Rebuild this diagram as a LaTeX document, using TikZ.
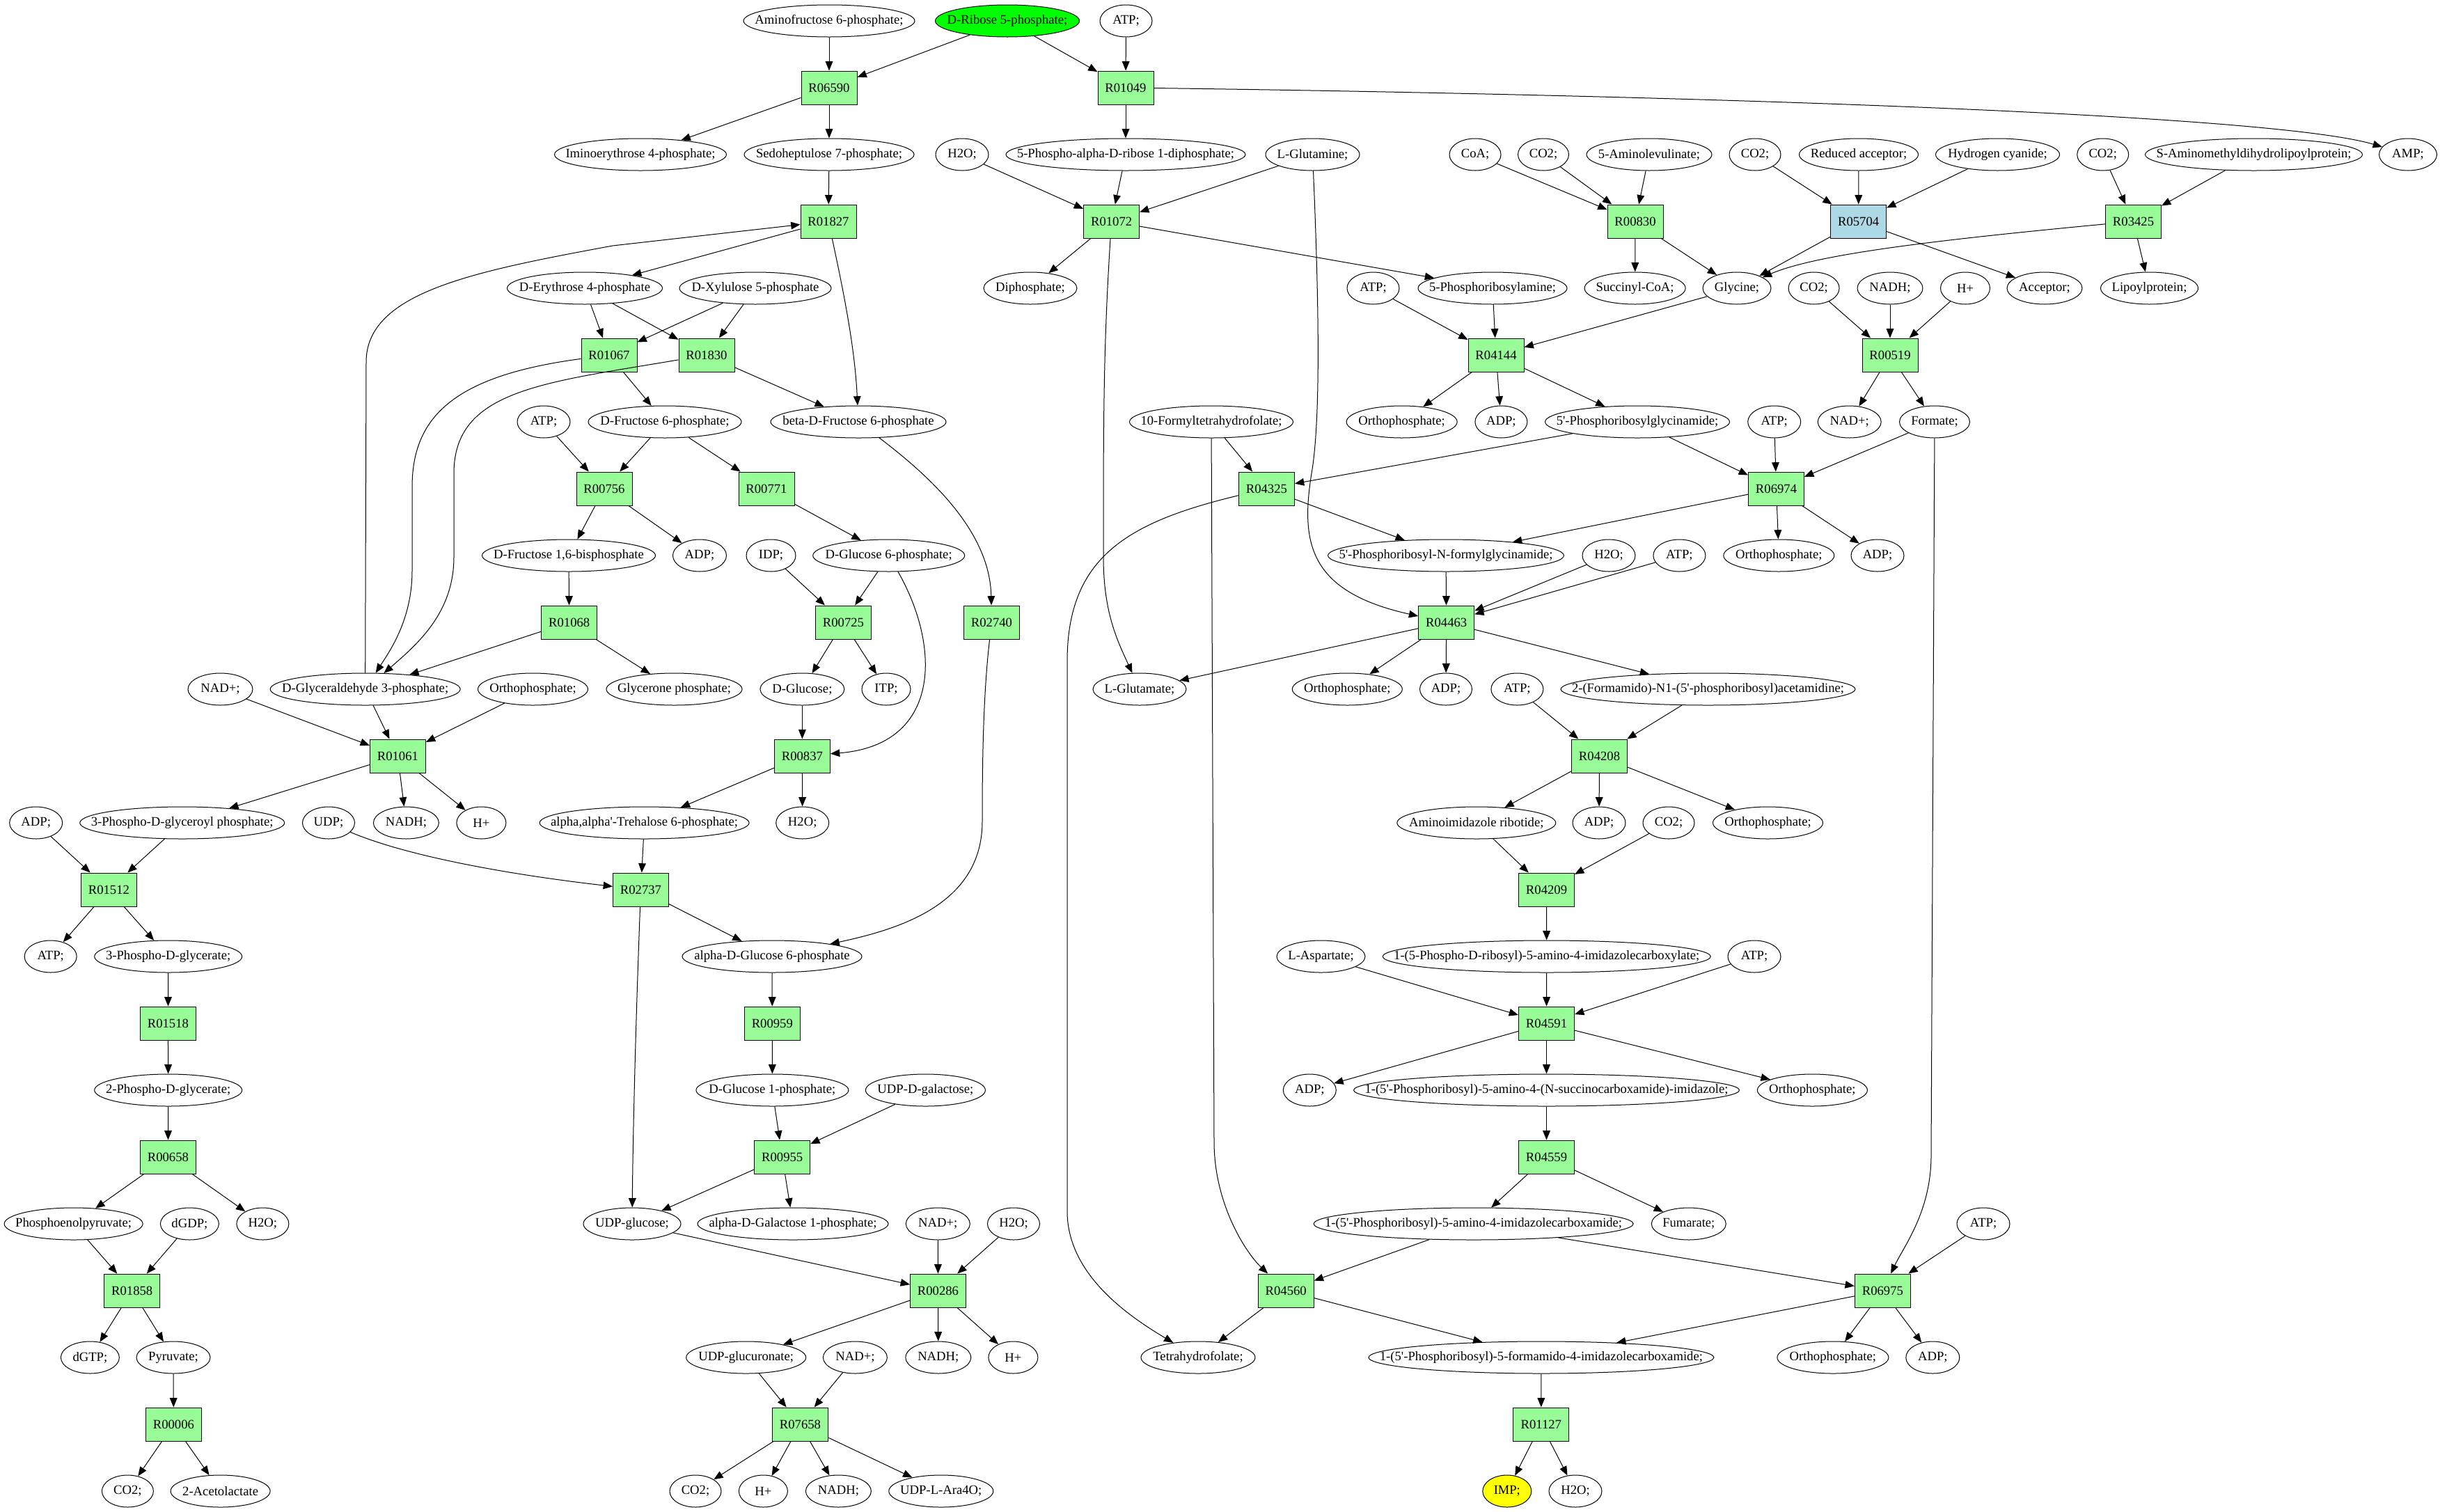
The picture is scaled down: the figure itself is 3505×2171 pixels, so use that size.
\documentclass[tikz,border=0pt]{standalone}
\usepackage{fontspec}
\setmainfont{Liberation Serif}
\usetikzlibrary{arrows.meta,shapes.geometric}
\definecolor{palegreen}{RGB}{152,251,152}
\definecolor{lblue}{RGB}{173,216,230}
\definecolor{pgreen}{RGB}{0,255,0}
\definecolor{pyellow}{RGB}{255,255,0}
\newsavebox\lblbox
\newcommand\fitlabel[2]{\sbox\lblbox{#2}\pgfmathsetmacro\lblratio{min(1,((#1-32)*0.75)/\wd\lblbox)}\makebox[0pt]{\scalebox{\lblratio}[1]{\usebox\lblbox}}}
\newcommand\Mnode[6][]{\node[mol,minimum width={#5*0.75pt},#1] (#2) at ({#3},{30+96*#4}) {\fitlabel{#5}{#6}};}
\newcommand\Rnode[4][]{\node[rxn,#1] (#2) at ({#3},{30+96*#4}) {#2};}
\newcommand\q{\textquotesingle}
\begin{document}
\begin{tikzpicture}[x=0.75pt,y=-0.75pt,line width=0.75pt,
  >={Triangle[length=10pt,width=8pt]},
  mol/.style={draw,ellipse,inner sep=0pt,minimum height=34.5pt,font=\fontsize{14pt}{16pt}\selectfont},
  rxn/.style={draw,rectangle,fill=palegreen,inner sep=0pt,minimum width=60pt,minimum height=36pt,font=\fontsize{14pt}{16pt}\selectfont}]
\useasboundingbox (0,0) rectangle (3505,2171);
% rank 0
\Mnode{aminofru}{1191}{0}{246}{Aminofructose 6-phosphate;}
\Mnode[fill=pgreen]{rib5p}{1447}{0}{207}{D-Ribose 5-phosphate;}
\Mnode{atpA}{1617.5}{0}{75}{ATP;}
% rank 1
\Rnode{R06590}{1191}{1}
\Rnode{R01049}{1617}{1}
% rank 2
\Mnode{iminoery}{920}{2}{247}{Iminoerythrose 4-phosphate;}
\Mnode{sedo7p}{1191}{2}{244}{Sedoheptulose 7-phosphate;}
\Mnode{h2oA}{1382}{2}{76}{H2O;}
\Mnode{prpp}{1617}{2}{344}{5-Phospho-alpha-D-ribose 1-diphosphate;}
\Mnode{glutamine}{1885.5}{2}{135}{L-Glutamine;}
\Mnode{coa}{2119}{2}{74}{CoA;}
\Mnode{co2A}{2217}{2}{73}{CO2;}
\Mnode{ala}{2369}{2}{180}{5-Aminolevulinate;}
\Mnode{co2B}{2521}{2}{74}{CO2;}
\Mnode{redacc}{2670}{2}{171}{Reduced acceptor;}
\Mnode{hcn}{2869.5}{2}{178}{Hydrogen cyanide;}
\Mnode{co2C}{3020.7}{2}{74}{CO2;}
\Mnode{samdl}{3237.5}{2}{312}{S-Aminomethyldihydrolipoylprotein;}
\Mnode{amp}{3459}{2}{83}{AMP;}
% rank 3
\Rnode{R01827}{1190}{3}
\Rnode{R01072}{1596.6}{3}
\Rnode{R00830}{2349}{3}
\Rnode[fill=lblue]{R05704}{2669.6}{3}
\Rnode{R03425}{3064.5}{3}
% rank 4
\Mnode{ery4p}{840}{4}{223}{D-Erythrose 4-phosphate}
\Mnode{xyl5p}{1085}{4}{218}{D-Xylulose 5-phosphate}
\Mnode{diphos}{1480}{4}{134}{Diphosphate;}
\Mnode{atpB}{1972.5}{4}{75}{ATP;}
\Mnode{pra}{2144}{4}{214}{5-Phosphoribosylamine;}
\Mnode{succoa}{2348.6}{4}{145}{Succinyl-CoA;}
\Mnode{glycine}{2495}{4}{98}{Glycine;}
\Mnode{co2D}{2605.6}{4}{73}{CO2;}
\Mnode{nadhA}{2715}{4}{94}{NADH;}
\Mnode{hA}{2823}{4}{71}{H+}
\Mnode{acceptor}{2937}{4}{108}{Acceptor;}
\Mnode{lipoyl}{3087.5}{4}{140}{Lipoylprotein;}
% rank 5
\Rnode{R01067}{875}{5}
\Rnode{R01830}{1015}{5}
\Rnode{R04144}{2149}{5}
\Rnode{R00519}{2715}{5}
% rank 6
\Mnode{atpC}{781}{6}{76}{ATP;}
\Mnode{fru6p}{955}{6}{220}{D-Fructose 6-phosphate;}
\Mnode{bfru6p}{1233}{6}{252}{beta-D-Fructose 6-phosphate}
\Mnode{fthf}{1740}{6}{235}{10-Formyltetrahydrofolate;}
\Mnode{orthoA}{2013.6}{6}{159}{Orthophosphate;}
\Mnode{adpA}{2156.4}{6}{75}{ADP;}
\Mnode{gar}{2352}{6}{265}{5\q-Phosphoribosylglycinamide;}
\Mnode{atpD}{2548.7}{6}{76}{ATP;}
\Mnode{nadA}{2656.7}{6}{91}{NAD+;}
\Mnode{formate}{2779}{6}{101}{Formate;}
% rank 7
\Rnode{R00756}{868}{7}
\Rnode{R00771}{1101}{7}
\Rnode{R04325}{1819.4}{7}
\Rnode{R06974}{2551.5}{7}
% rank 8
\Mnode{fbp}{817}{8}{249}{D-Fructose 1,6-bisphosphate}
\Mnode{adpB}{1005}{8}{77}{ADP;}
\Mnode{idp}{1107.5}{8}{71}{IDP;}
\Mnode{glc6p}{1276.7}{8}{218}{D-Glucose 6-phosphate;}
\Mnode{fgar}{2077}{8}{339}{5\q-Phosphoribosyl-N-formylglycinamide;}
\Mnode{h2oB}{2311}{8}{76}{H2O;}
\Mnode{atpE}{2412.4}{8}{75}{ATP;}
\Mnode{orthoB}{2555.3}{8}{159}{Orthophosphate;}
\Mnode{adpC}{2697}{8}{76}{ADP;}
% rank 9
\Rnode{R01068}{817.7}{9}
\Rnode{R00725}{1211.5}{9}
\Rnode{R02740}{1424.5}{9}
\Rnode{R04463}{2077.7}{9}
% rank 10
\Mnode{nadB}{316.5}{10}{93}{NAD+;}
\Mnode{gap}{524.7}{10}{273}{D-Glyceraldehyde 3-phosphate;}
\Mnode{orthoC}{765.5}{10}{158}{Orthophosphate;}
\Mnode{dhap}{968.5}{10}{195}{Glycerone phosphate;}
\Mnode{glucose}{1152.4}{10}{121}{D-Glucose;}
\Mnode{itp}{1273}{10}{70}{ITP;}
\Mnode{glutamate}{1637}{10}{134}{L-Glutamate;}
\Mnode{orthoD}{1935.3}{10}{158}{Orthophosphate;}
\Mnode{adpD}{2077}{10}{75}{ADP;}
\Mnode{atpF}{2179.4}{10}{75}{ATP;}
\Mnode{fgam}{2453.5}{10}{423}{2-(Formamido)-N1-(5\q-phosphoribosyl)acetamidine;}
% rank 11
\Rnode{R01061}{571.4}{11}
\Rnode{R00837}{1152.4}{11}
\Rnode{R04208}{2297.5}{11}
% rank 12
\Mnode{adpE}{51.7}{12}{76}{ADP;}
\Mnode{bpg}{261.7}{12}{294}{3-Phospho-D-glyceroyl phosphate;}
\Mnode{udp}{472}{12}{75}{UDP;}
\Mnode{nadhB}{583.4}{12}{94}{NADH;}
\Mnode{hB}{691.4}{12}{71}{H+}
\Mnode{tre6p}{925.6}{12}{301}{alpha,alpha\q-Trehalose 6-phosphate;}
\Mnode{h2oC}{1152.7}{12}{76}{H2O;}
\Mnode{air}{2120.8}{12}{228}{Aminoimidazole ribotide;}
\Mnode{adpF}{2297}{12}{76}{ADP;}
\Mnode{co2E}{2397}{12}{74}{CO2;}
\Mnode{orthoE}{2539.5}{12}{158}{Orthophosphate;}
% rank 13
\Rnode{R01512}{156.4}{13}
\Rnode{R02737}{920.5}{13}
\Rnode{R04209}{2221.5}{13}
% rank 14
\Mnode{atpG}{72.7}{14}{75}{ATP;}
\Mnode{pg3}{241.7}{14}{212}{3-Phospho-D-glycerate;}
\Mnode{aglc6p}{1109}{14}{258}{alpha-D-Glucose 6-phosphate}
\Mnode{asp}{1897.5}{14}{127}{L-Aspartate;}
\Mnode{cair}{2221.7}{14}{471}{1-(5-Phospho-D-ribosyl)-5-amino-4-imidazolecarboxylate;}
\Mnode{atpH}{2520}{14}{76}{ATP;}
% rank 15
\Rnode{R01518}{241.4}{15}
\Rnode{R00959}{1109.3}{15}
\Rnode{R04591}{2221.5}{15}
% rank 16
\Mnode{pg2}{241.7}{16}{212}{2-Phospho-D-glycerate;}
\Mnode{glc1p}{1109.4}{16}{219}{D-Glucose 1-phosphate;}
\Mnode{udpgal}{1329.4}{16}{172}{UDP-D-galactose;}
\Mnode{adpG}{1881.3}{16}{76}{ADP;}
\Mnode{saicar}{2221.5}{16}{554}{1-(5\q-Phosphoribosyl)-5-amino-4-(N-succinocarboxamide)-imidazole;}
\Mnode{orthoF}{2603.4}{16}{158}{Orthophosphate;}
% rank 17
\Rnode{R00658}{241.4}{17}
\Rnode{R00955}{1123.7}{17}
\Rnode{R04559}{2221.5}{17}
% rank 18
\Mnode{pep}{105.6}{18}{199}{Phosphoenolpyruvate;}
\Mnode{dgdp}{272.4}{18}{84}{dGDP;}
\Mnode{h2oD}{377.4}{18}{75}{H2O;}
\Mnode{udpglc}{908}{18}{140}{UDP-glucose;}
\Mnode{gal1p}{1139}{18}{274}{alpha-D-Galactose 1-phosphate;}
\Mnode{nadC}{1347.3}{18}{92}{NAD+;}
\Mnode{h2oE}{1456}{18}{75}{H2O;}
\Mnode{aicar}{2116.6}{18}{459}{1-(5\q-Phosphoribosyl)-5-amino-4-imidazolecarboxamide;}
\Mnode{fumarate}{2425.8}{18}{107}{Fumarate;}
\Mnode{atpI}{2849}{18}{76}{ATP;}
% rank 19
\Rnode{R01858}{189.7}{19}
\Rnode{R00286}{1347.5}{19}
\Rnode{R04560}{1847.2}{19}
\Rnode{R06975}{2704.4}{19}
% rank 20
\Mnode{dgtp}{129.4}{20}{84}{dGTP;}
\Mnode{pyruvate}{249}{20}{106}{Pyruvate;}
\Mnode{udpglcA}{1071.7}{20}{172}{UDP-glucuronate;}
\Mnode{nadD}{1228.4}{20}{92}{NAD+;}
\Mnode{nadhC}{1347.8}{20}{94}{NADH;}
\Mnode{hC}{1455.4}{20}{71}{H+}
\Mnode{thf}{1721}{20}{164}{Tetrahydrofolate;}
\Mnode{faicar}{2213.9}{20}{496}{1-(5\q-Phosphoribosyl)-5-formamido-4-imidazolecarboxamide;}
\Mnode{orthoG}{2632.9}{20}{160}{Orthophosphate;}
\Mnode{adpH}{2776.3}{20}{77}{ADP;}
% rank 21
\Rnode{R00006}{249.4}{21}
\Rnode{R07658}{1149.5}{21}
\Rnode{R01127}{2213.8}{21}
% rank 22
\Mnode{co2F}{183.4}{22}{74}{CO2;}
\Mnode{acetolac}{316.6}{22}{143}{2-Acetolactate}
\Mnode{co2G}{999}{22}{74}{CO2;}
\Mnode{hD}{1096.4}{22}{70}{H+}
\Mnode{nadhD}{1204.4}{22}{94}{NADH;}
\Mnode{ara4o}{1351.8}{22}{150}{UDP-L-Ara4O;}
\Mnode[fill=pyellow]{imp}{2164.8}{22}{70}{IMP;}
\Mnode{h2oF}{2263}{22}{76}{H2O;}
% ---------- edges, left part
\draw[->] (aminofru) -- (R06590);
\draw[->] (rib5p) -- (R06590);
\draw[->] (rib5p) -- (R01049);
\draw[->] (atpA) -- (R01049);
\draw[->] (R06590) -- (iminoery);
\draw[->] (R06590) -- (sedo7p);
\draw[->] (R01049) -- (prpp);
\draw[->] (R01049) .. controls (2300,135) and (3250,160) .. (amp);
\draw[->] (sedo7p) -- (R01827);
\draw[->] (h2oA) -- (R01072);
\draw[->] (prpp) -- (R01072);
\draw[->] (glutamine) -- (R01072);
\draw[->] (R01827) -- (ery4p);
\draw[->] (R01827) .. controls (1212,420) and (1228,500) .. (bfru6p);
\draw[->] (gap.north) -- (526,520) .. controls (526,420) and (680,390) .. (880,353) -- (R01827);
\draw[->] (R01072) -- (diphos);
\draw[->] (R01072) -- (pra);
\draw[->] (R01072) .. controls (1585,500) and (1585,600) .. (1585,800) .. controls (1585,880) and (1605,920) .. (glutamate);
\draw[->] (ery4p) -- (R01067);
\draw[->] (ery4p) -- (R01830);
\draw[->] (xyl5p) -- (R01067);
\draw[->] (xyl5p) -- (R01830);
\draw[->] (R01067) .. controls (650,540) and (592,600) .. (592,700) -- (592,820) .. controls (592,890) and (560,935) .. (gap);
\draw[->] (R01830) .. controls (780,550) and (652,560) .. (652,680) -- (652,800) .. controls (652,880) and (600,925) .. (gap);
\draw[->] (R01067) -- (fru6p);
\draw[->] (R01830) -- (bfru6p);
\draw[->] (atpC) -- (R00756);
\draw[->] (fru6p) -- (R00756);
\draw[->] (fru6p) -- (R00771);
\draw[->] (R00756) -- (fbp);
\draw[->] (R00756) -- (adpB);
\draw[->] (R00771) -- (glc6p);
\draw[->] (bfru6p) .. controls (1330,680) and (1422,760) .. (R02740);
\draw[->] (idp) -- (R00725);
\draw[->] (glc6p) -- (R00725);
\draw[->] (glc6p) .. controls (1352,930) and (1352,1070) .. (R00837);
\draw[->] (fbp) -- (R01068);
\draw[->] (R01068) -- (gap);
\draw[->] (R01068) -- (dhap);
\draw[->] (R00725) -- (glucose);
\draw[->] (R00725) -- (itp);
\draw[->] (R02740) .. controls (1412,1000) and (1411,1100) .. (1411,1180) .. controls (1411,1300) and (1290,1335) .. (aglc6p);
\draw[->] (glucose) -- (R00837);
\draw[->] (nadB) -- (R01061);
\draw[->] (gap) -- (R01061);
\draw[->] (orthoC) -- (R01061);
\draw[->] (R01061) -- (bpg);
\draw[->] (R01061) -- (nadhB);
\draw[->] (R01061) -- (hB);
\draw[->] (R00837) -- (tre6p);
\draw[->] (R00837) -- (h2oC);
\draw[->] (adpE) -- (R01512);
\draw[->] (bpg) -- (R01512);
\draw[->] (udp) .. controls (580,1228) and (720,1255) .. (R02737);
\draw[->] (tre6p) -- (R02737);
\draw[->] (R01512) -- (atpG);
\draw[->] (R01512) -- (pg3);
\draw[->] (R02737) -- (aglc6p);
\draw[->] (R02737) .. controls (912,1500) and (909,1650) .. (udpglc);
\draw[->] (pg3) -- (R01518);
\draw[->] (aglc6p) -- (R00959);
\draw[->] (R01518) -- (pg2);
\draw[->] (R00959) -- (glc1p);
\draw[->] (pg2) -- (R00658);
\draw[->] (glc1p) -- (R00955);
\draw[->] (udpgal) -- (R00955);
\draw[->] (R00658) -- (pep);
\draw[->] (R00658) -- (h2oD);
\draw[->] (R00955) -- (udpglc);
\draw[->] (R00955) -- (gal1p);
\draw[->] (pep) -- (R01858);
\draw[->] (dgdp) -- (R01858);
\draw[->] (udpglc) -- (R00286);
\draw[->] (nadC) -- (R00286);
\draw[->] (h2oE) -- (R00286);
\draw[->] (R01858) -- (dgtp);
\draw[->] (R01858) -- (pyruvate);
\draw[->] (R00286) -- (udpglcA);
\draw[->] (R00286) -- (nadhC);
\draw[->] (R00286) -- (hC);
\draw[->] (pyruvate) -- (R00006);
\draw[->] (udpglcA) -- (R07658);
\draw[->] (nadD) -- (R07658);
\draw[->] (R00006) -- (co2F);
\draw[->] (R00006) -- (acetolac);
\draw[->] (R07658) -- (co2G);
\draw[->] (R07658) -- (hD);
\draw[->] (R07658) -- (nadhD);
\draw[->] (R07658) -- (ara4o);
% ---------- edges, right part
\draw[->] (coa) -- (R00830);
\draw[->] (co2A) -- (R00830);
\draw[->] (ala) -- (R00830);
\draw[->] (R00830) -- (succoa);
\draw[->] (R00830) -- (glycine);
\draw[->] (co2B) -- (R05704);
\draw[->] (redacc) -- (R05704);
\draw[->] (hcn) -- (R05704);
\draw[->] (R05704) -- (glycine);
\draw[->] (R05704) -- (acceptor);
\draw[->] (co2C) -- (R03425);
\draw[->] (samdl) -- (R03425);
\draw[->] (R03425) .. controls (2780,345) and (2610,365) .. (glycine);
\draw[->] (R03425) -- (lipoyl);
\draw[->] (atpB) -- (R04144);
\draw[->] (pra) -- (R04144);
\draw[->] (glycine) -- (R04144);
\draw[->] (R04144) -- (orthoA);
\draw[->] (R04144) -- (adpA);
\draw[->] (R04144) -- (gar);
\draw[->] (co2D) -- (R00519);
\draw[->] (nadhA) -- (R00519);
\draw[->] (hA) -- (R00519);
\draw[->] (R00519) -- (nadA);
\draw[->] (R00519) -- (formate);
\draw[->] (fthf) -- (R04325);
\draw[->] (fthf) -- (1744,1640) .. controls (1744,1730) and (1790,1800) .. (R04560);
\draw[->] (gar) -- (R04325);
\draw[->] (gar) -- (R06974);
\draw[->] (atpD) -- (R06974);
\draw[->] (formate) -- (R06974);
\draw[->] (formate) -- (2774,1660) .. controls (2774,1740) and (2735,1790) .. (R06975);
\draw[->] (R04325) -- (fgar);
\draw[->] (R04325) .. controls (1620,750) and (1533,800) .. (1533,950) -- (1533,1740) .. controls (1533,1830) and (1620,1890) .. (thf);
\draw[->] (R06974) -- (fgar);
\draw[->] (R06974) -- (orthoB);
\draw[->] (R06974) -- (adpC);
\draw[->] (glutamine) .. controls (1894,420) and (1898,600) .. (1884,680) .. controls (1868,780) and (1880,850) .. (R04463);
\draw[->] (fgar) -- (R04463);
\draw[->] (h2oB) -- (R04463);
\draw[->] (atpE) -- (R04463);
\draw[->] (R04463) -- (glutamate);
\draw[->] (R04463) -- (orthoD);
\draw[->] (R04463) -- (adpD);
\draw[->] (R04463) -- (fgam);
\draw[->] (atpF) -- (R04208);
\draw[->] (fgam) -- (R04208);
\draw[->] (R04208) -- (air);
\draw[->] (R04208) -- (adpF);
\draw[->] (R04208) -- (orthoE);
\draw[->] (air) -- (R04209);
\draw[->] (co2E) -- (R04209);
\draw[->] (R04209) -- (cair);
\draw[->] (asp) -- (R04591);
\draw[->] (cair) -- (R04591);
\draw[->] (atpH) -- (R04591);
\draw[->] (R04591) -- (adpG);
\draw[->] (R04591) -- (saicar);
\draw[->] (R04591) -- (orthoF);
\draw[->] (saicar) -- (R04559);
\draw[->] (R04559) -- (aicar);
\draw[->] (R04559) -- (fumarate);
\draw[->] (aicar) -- (R04560);
\draw[->] (aicar) -- (R06975);
\draw[->] (atpI) -- (R06975);
\draw[->] (R04560) -- (thf);
\draw[->] (R04560) -- (faicar);
\draw[->] (R06975) -- (faicar);
\draw[->] (R06975) -- (orthoG);
\draw[->] (R06975) -- (adpH);
\draw[->] (faicar) -- (R01127);
\draw[->] (R01127) -- (imp);
\draw[->] (R01127) -- (h2oF);
\end{tikzpicture}
\end{document}
